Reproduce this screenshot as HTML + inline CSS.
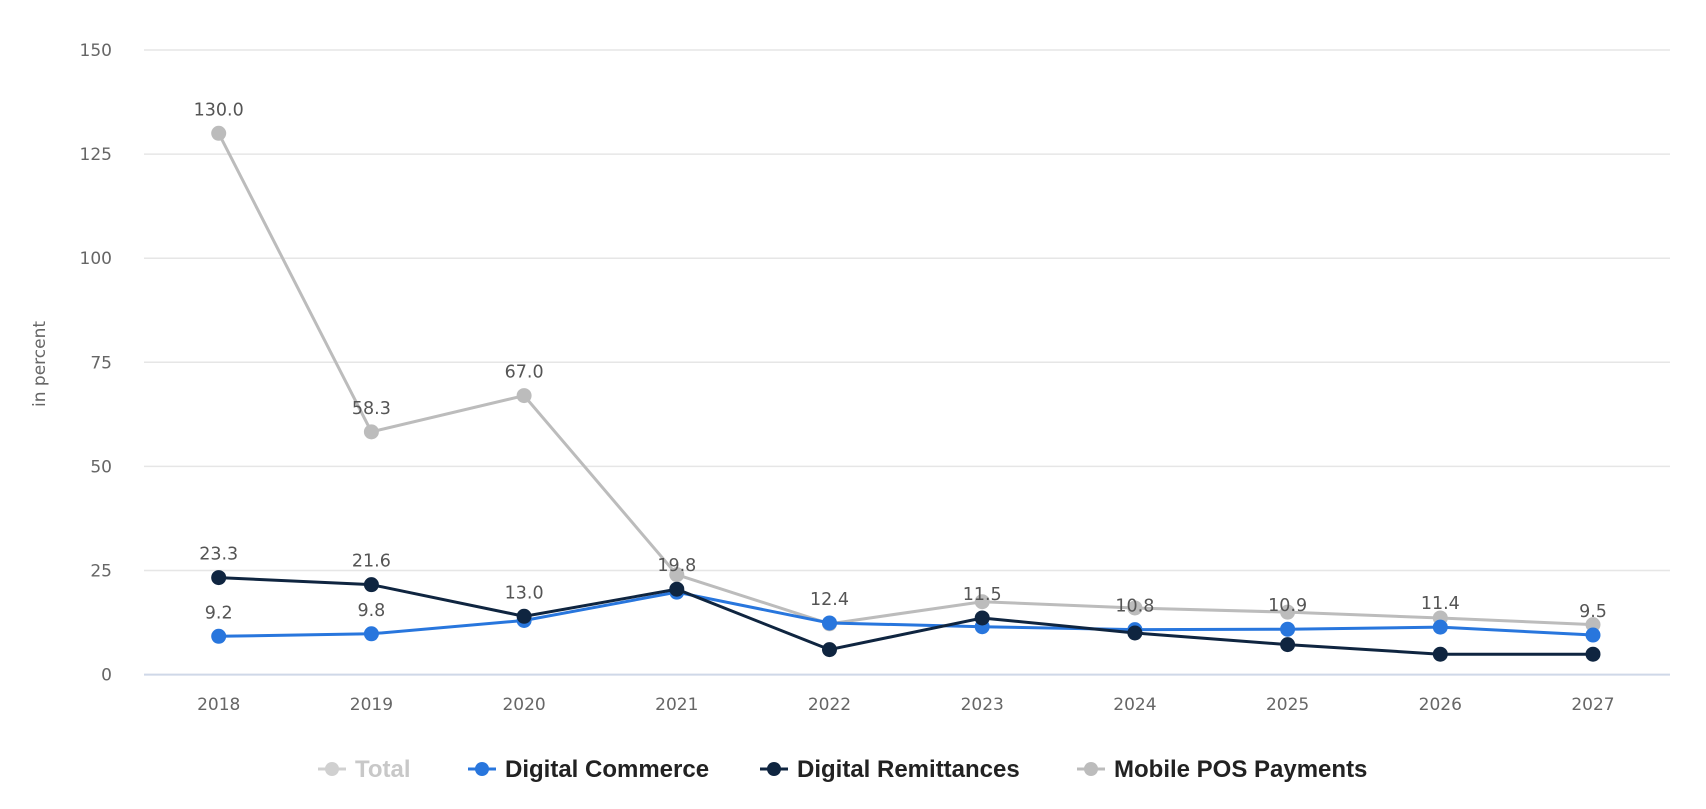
<!DOCTYPE html>
<html><head><meta charset="utf-8">
<style>
body{margin:0;background:#fff;width:1706px;height:804px;overflow:hidden;font-family:"Liberation Sans","DejaVu Sans",sans-serif}
svg text{font-family:"DejaVu Sans","Liberation Sans",sans-serif}
svg text.leg{font-family:"Liberation Sans","DejaVu Sans",sans-serif}
</style></head>
<body>
<svg id="chart" width="1706" height="804" xmlns="http://www.w3.org/2000/svg"></svg>
<script>
const years=["2018","2019","2020","2021","2022","2023","2024","2025","2026","2027"];
const yTicks=[0,25,50,75,100,125,150];
const mobilePOS=[130.0,58.3,67.0,24.0,12.2,17.5,16.0,15.0,13.6,12.0];
const digitalCommerce=[9.2,9.8,13.0,19.8,12.4,11.5,10.8,10.9,11.4,9.5];
const digitalRemit=[23.3,21.6,14.0,20.5,6.0,13.6,10.0,7.2,4.9,4.9];
const posLabels=["130.0","58.3","67.0",null,null,null,null,null,null,null];
const remitLabels=["23.3","21.6",null,null,null,null,null,null,null,null];
const commLabels=["9.2","9.8","13.0","19.8","12.4","11.5","10.8","10.9","11.4","9.5"];

const svg=document.getElementById('chart');
const NS="http://www.w3.org/2000/svg";
const x0=218.7,dx=152.7,yBase=674.6,yTop=50,vMax=150;
const X=i=>x0+i*dx;
const Y=v=>yBase-(v/vMax)*(yBase-yTop);
function mk(tag,attrs,parent){const e=document.createElementNS(NS,tag);for(const k in attrs)e.setAttribute(k,attrs[k]);(parent||svg).appendChild(e);return e;}

const grid=mk('g',{});


yTicks.forEach(t=>{
  const l=mk('line',{x1:144,x2:1670,y1:Y(t),y2:Y(t),stroke:t===0?'#cfd8e8':'#e6e6e6','stroke-width':t===0?2:1.5},grid);
  
  
  const tx=mk('text',{x:112,y:Y(t)+6,'text-anchor':'end','font-size':17,fill:'#666'});
  tx.textContent=t;
  
  
});
const yt=mk('text',{x:0,y:0,transform:'translate(45,364) rotate(-90)','text-anchor':'middle','font-size':17,fill:'#666'});
yt.textContent='in percent';


years.forEach((yr,i)=>{
  const t=mk('text',{x:X(i),y:710,'text-anchor':'middle','font-size':17,fill:'#666'});
  t.textContent=yr;
  
  
});

function series(vals,color,name){
  const g=mk('g',{});
  
  
  const p=mk('polyline',{points:vals.map((v,i)=>X(i)+','+Y(v)).join(' '),fill:'none',stroke:color,'stroke-width':3},g);
  
  
  vals.forEach((v,i)=>{
    const c=mk('circle',{cx:X(i),cy:Y(v),r:7.5,fill:color},g);
    
    
  });
}
series(mobilePOS,'#bcbcbc','mobile-pos');
series(digitalCommerce,'#2876dd','digital-commerce');
series(digitalRemit,'#0f2540','digital-remittances');

function labels(arr,anchorFn){
  arr.forEach((s,i)=>{
    if(s===null)return;
    const t=mk('text',{x:X(i),y:Y(anchorFn(i))-18,'text-anchor':'middle','font-size':17.5,fill:'#555'});
    t.textContent=s;
    
    
  });
}
labels(posLabels,i=>mobilePOS[i]);
labels(remitLabels,i=>digitalRemit[i]);
labels(commLabels,i=>i<2?digitalCommerce[i]:Math.max(digitalCommerce[i],digitalRemit[i]));

const legend=[["Total","#d0d0d0","#c8c8c8",338],["Digital Commerce","#2876dd","#222",488],["Digital Remittances","#0f2540","#222",780],["Mobile POS Payments","#bcbcbc","#222",1097]];
legend.forEach(([name,col,tc,lx])=>{
  const g=mk('g',{});
  
  
  mk('line',{x1:lx-20,x2:lx+8,y1:769,y2:769,stroke:col,'stroke-width':3},g);
  mk('circle',{cx:lx-6,cy:769,r:7,fill:col},g);
  const t=mk('text',{class:'leg',x:lx+17,y:777,'font-size':24,fill:tc,'font-weight':'bold'},g);
  t.textContent=name;
});
</script>
</body></html>
